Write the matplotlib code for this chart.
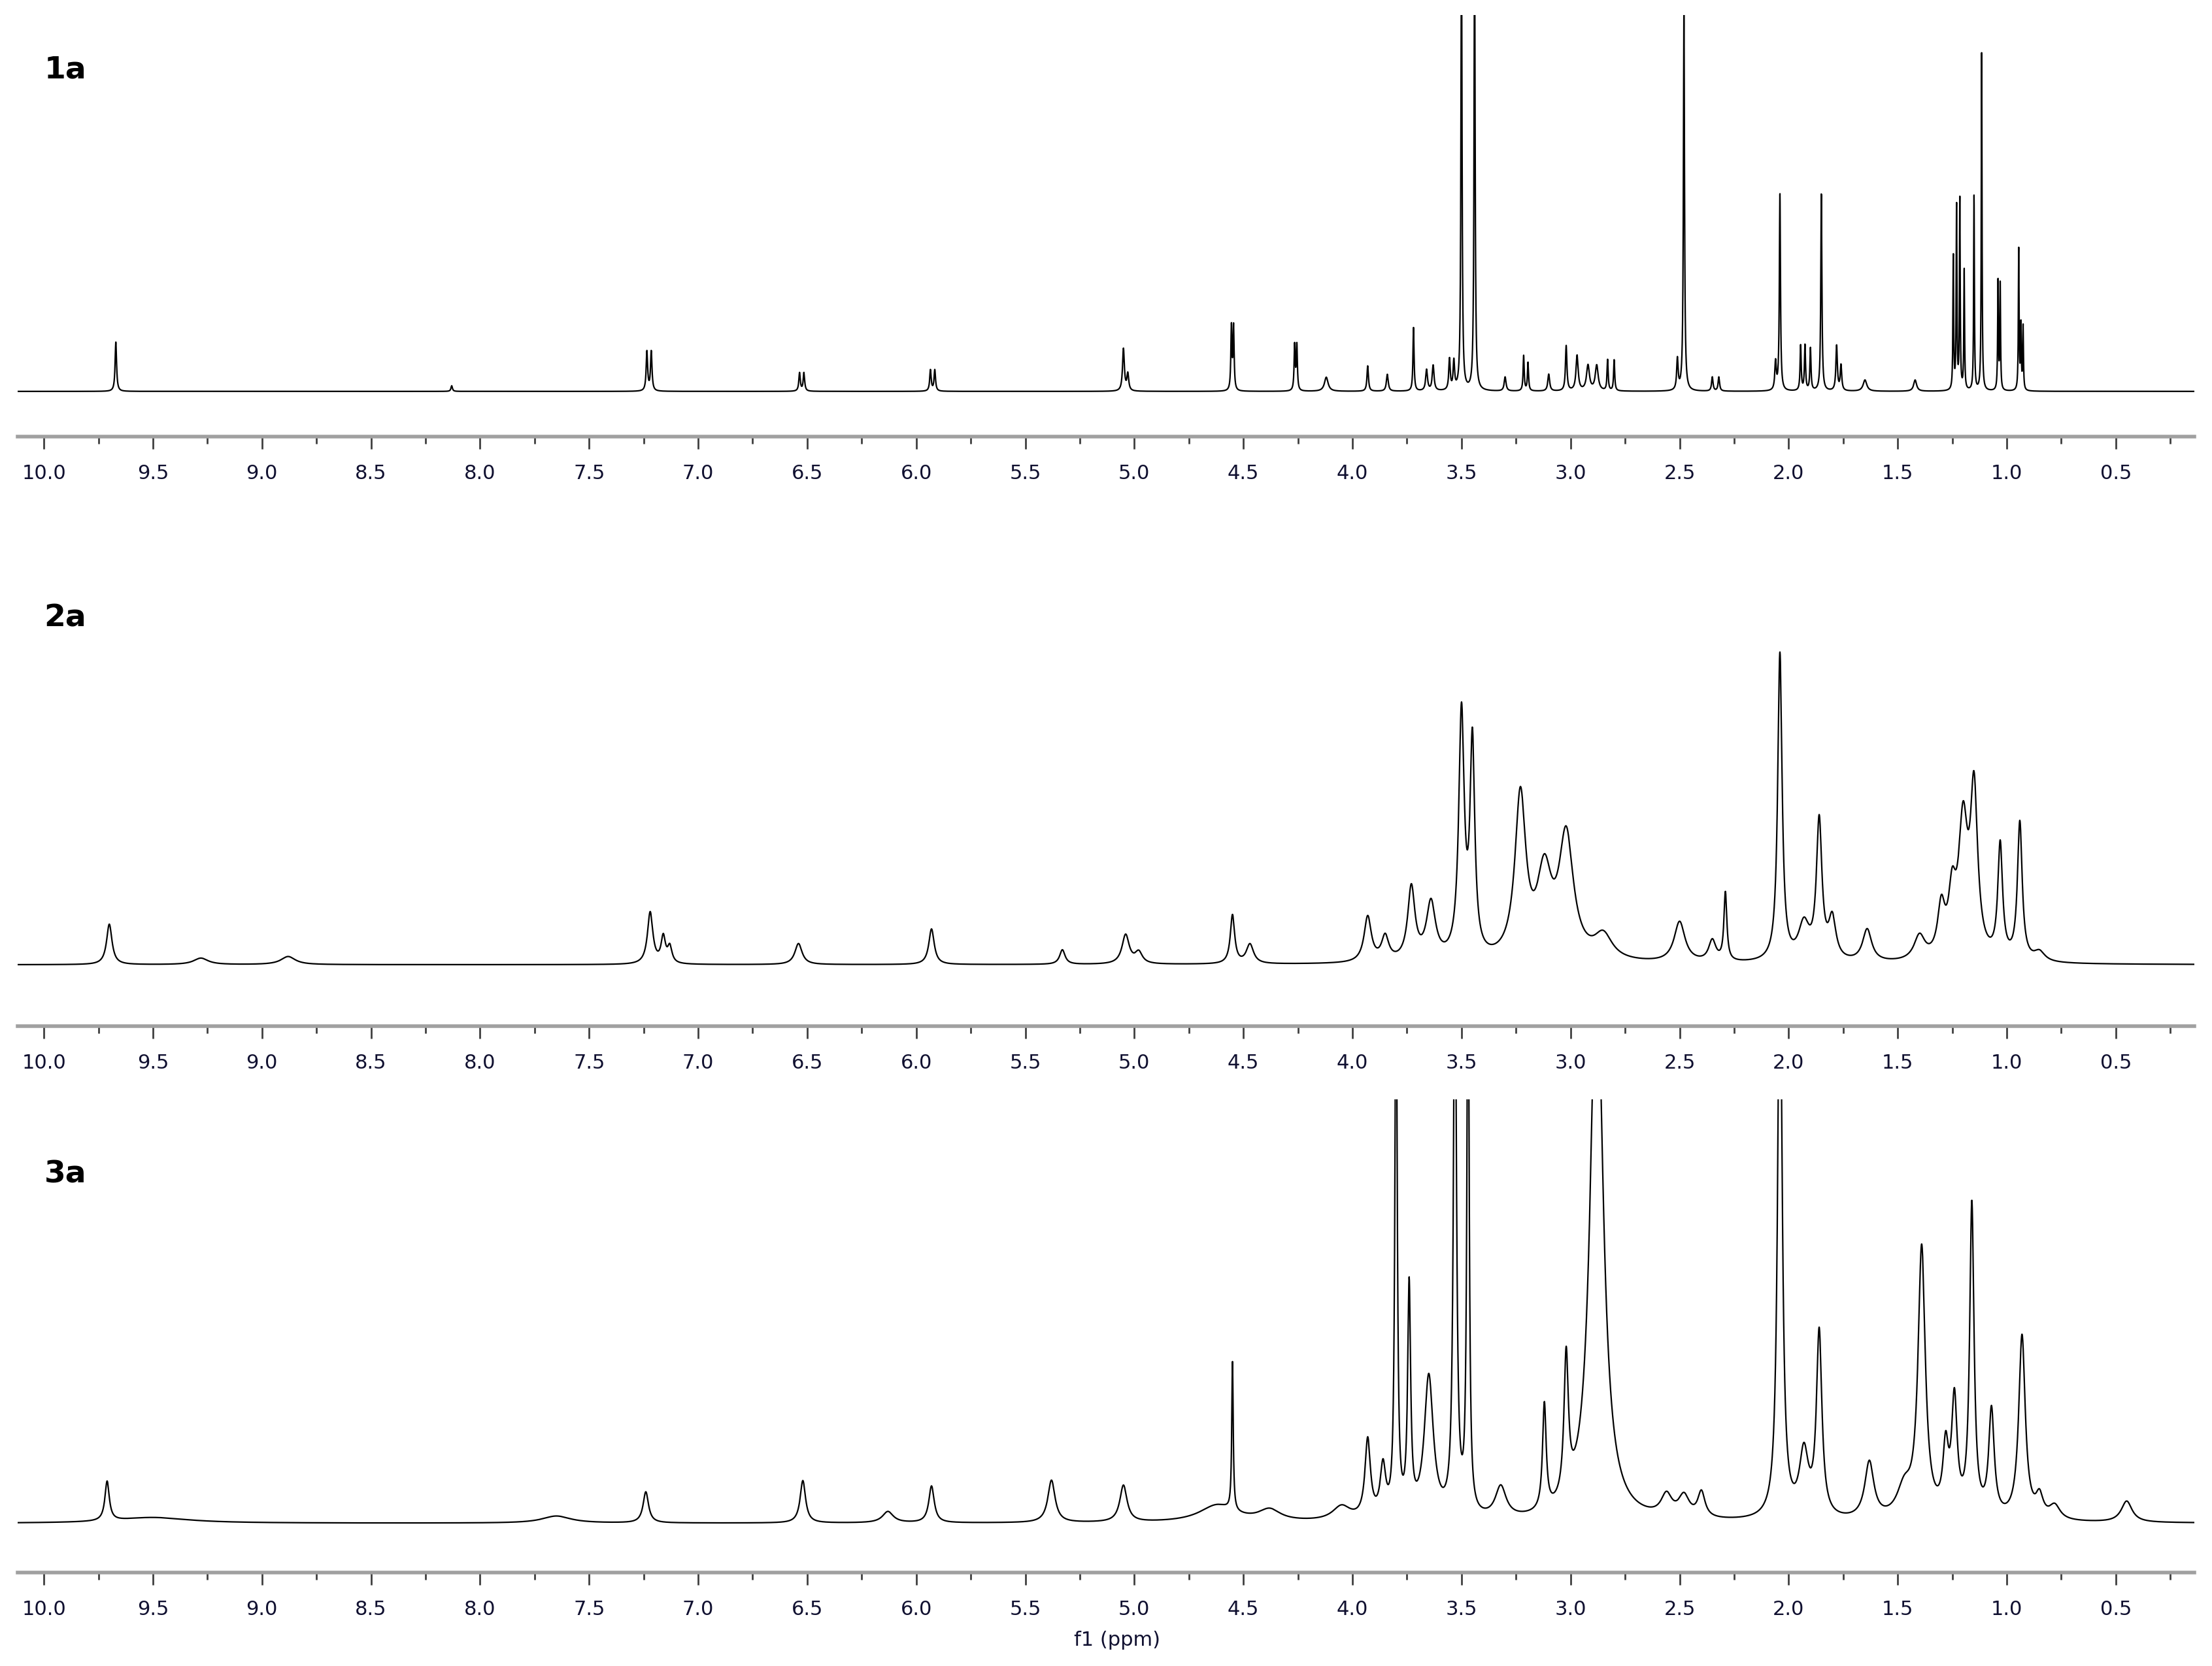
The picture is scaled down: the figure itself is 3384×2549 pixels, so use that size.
import numpy as np
import matplotlib
matplotlib.use("Agg")
import matplotlib.pyplot as plt
import matplotlib.ticker as ticker

# peak lists: (shift ppm, height, half width ppm)
peaks_1a = [(9.67, 35, .004), (8.13, 4, .004), (7.235, 28, .004), (7.215, 28, .004),
            (6.535, 13, .004), (6.515, 13, .004), (5.935, 15, .004), (5.915, 15, .004),
            (5.05, 30, .005), (5.03, 12, .005), (4.555, 45, .003), (4.545, 45, .003),
            (4.265, 32, .003), (4.255, 32, .003), (4.12, 10, .01), (3.93, 18, .004),
            (3.84, 12, .005), (3.72, 45, .003), (3.66, 15, .005), (3.63, 18, .005),
            (3.555, 22, .004), (3.535, 20, .004), (3.50, 320, .003), (3.44, 320, .003),
            (3.30, 10, .005), (3.215, 25, .003), (3.195, 20, .003), (3.10, 12, .005),
            (3.02, 32, .004), (2.97, 25, .006), (2.92, 18, .008), (2.88, 18, .008),
            (2.83, 22, .003), (2.80, 22, .003), (2.51, 22, .004), (2.48, 270, .003),
            (2.35, 10, .004), (2.32, 10, .004), (2.06, 20, .004), (2.04, 140, .003),
            (1.945, 32, .003), (1.925, 32, .003), (1.90, 30, .003), (1.85, 140, .003),
            (1.78, 32, .004), (1.76, 18, .004), (1.65, 8, .01), (1.42, 8, .008),
            (1.245, 95, .002), (1.23, 130, .002), (1.215, 135, .002), (1.195, 85, .002),
            (1.15, 138, .002), (1.115, 240, .002), (1.04, 78, .002), (1.03, 76, .002),
            (0.945, 100, .002), (0.935, 45, .002), (0.925, 45, .002)]

peaks_2a = [(9.70, 25, .015), (9.28, 4, .04), (8.88, 5, .04), (7.22, 32, .015),
            (7.16, 16, .012), (7.13, 10, .012), (6.54, 13, .02), (5.93, 22, .015),
            (5.33, 9, .015), (5.04, 18, .02), (4.98, 7, .02), (4.55, 30, .012),
            (4.47, 12, .02), (3.93, 28, .02), (3.85, 15, .02), (3.73, 45, .02),
            (3.64, 35, .025), (3.50, 150, .015), (3.45, 130, .013), (3.23, 100, .03),
            (3.12, 50, .04), (3.02, 75, .04), (2.85, 15, .05), (2.50, 25, .03),
            (2.35, 13, .02), (2.29, 42, .008), (2.04, 190, .012), (1.93, 22, .03),
            (1.86, 85, .015), (1.80, 25, .02), (1.64, 20, .025), (1.40, 15, .03),
            (1.30, 30, .02), (1.25, 35, .02), (1.20, 80, .025), (1.15, 100, .02),
            (1.03, 70, .013), (0.94, 85, .013), (0.85, 6, .03)]

peaks_3a = [(9.71, 28, .012), (9.5, 4, .2), (7.65, 5, .08), (7.24, 22, .015),
            (6.52, 30, .015), (6.13, 8, .03), (5.93, 26, .015), (5.38, 30, .02),
            (5.05, 26, .02), (4.55, 105, .004), (4.62, 12, .1), (4.38, 8, .06),
            (4.05, 10, .05), (3.93, 55, .015), (3.86, 35, .015), (3.80, 420, .006),
            (3.74, 160, .008), (3.65, 100, .025), (3.53, 420, .008), (3.47, 420, .006),
            (3.32, 22, .03), (3.12, 75, .01), (3.02, 100, .012), (2.88, 400, .035),
            (2.56, 15, .03), (2.48, 15, .03), (2.40, 18, .02), (2.04, 420, .012),
            (1.93, 45, .025), (1.86, 130, .015), (1.63, 40, .025), (1.47, 20, .04),
            (1.39, 190, .02), (1.28, 45, .015), (1.24, 80, .015), (1.16, 220, .012),
            (1.07, 75, .015), (0.93, 130, .018), (0.85, 15, .02), (0.78, 10, .03),
            (0.45, 15, .03)]

labels = ["1a", "2a", "3a"]
label_y = [0.958, 0.629, 0.295]
peak_sets = [peaks_1a, peaks_2a, peaks_3a]
# axes rectangles [left, bottom, width, height] and y ranges
rects = [[0.008, 0.738, 0.984, 0.253], [0.008, 0.384, 0.984, 0.243], [0.008, 0.056, 0.984, 0.284]]
ylims = [(-32, 267), (-38, 212), (-35, 300)]

x = np.linspace(0.14, 10.12, 20000)

fig = plt.figure(figsize=(16.92, 12.745), dpi=200)
for lab, ly, pk, rect, yl in zip(labels, label_y, peak_sets, rects, ylims):
    ax = fig.add_axes(rect)
    y = np.zeros_like(x)
    for c, h, w in pk:
        y += h * w**2 / ((x - c)**2 + w**2)
    ax.plot(x, y, color="black", lw=0.8)
    ax.set_xlim(10.12, 0.14)
    ax.set_ylim(*yl)
    for s in ["top", "left", "right"]:
        ax.spines[s].set_visible(False)
    ax.spines["bottom"].set_color("#a0a0a0")
    ax.spines["bottom"].set_linewidth(2)
    ax.set_yticks([])
    ax.xaxis.set_major_locator(ticker.MultipleLocator(0.5))
    ax.xaxis.set_minor_locator(ticker.MultipleLocator(0.25))
    ax.xaxis.set_major_formatter(ticker.FormatStrFormatter("%.1f"))
    ax.tick_params(axis="x", which="major", length=7, width=1, color="#404040",
                   labelsize=11, labelcolor="#101030", pad=8)
    ax.tick_params(axis="x", which="minor", length=4, width=1, color="#404040")
    fig.text(0.02, ly, lab, fontsize=17, fontweight="bold", va="center")

fig.text(0.505, 0.012, "f1 (ppm)", ha="center", fontsize=11, color="#101030")
fig.savefig("out.png")
